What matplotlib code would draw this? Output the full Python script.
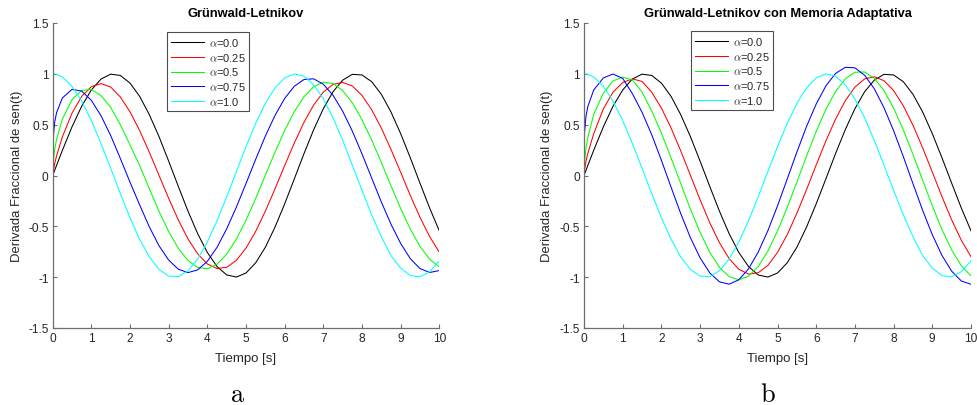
import matplotlib
matplotlib.use('Agg')
import matplotlib.pyplot as plt

plt.rcParams['font.family'] = ['Liberation Sans', 'DejaVu Sans']
plt.rcParams['mathtext.fontset'] = 'cm'

# ---------------- data ----------------
t = [0, 0.01, 0.05, 0.1, 0.25, 0.5, 0.75, 1.0, 1.25, 1.5, 1.75, 2.0, 2.25, 2.5,
     2.75, 3.0, 3.25, 3.5, 3.75, 4.0, 4.25, 4.5, 4.75, 5.0, 5.25, 5.5, 5.75, 6.0,
     6.25, 6.5, 6.75, 7.0, 7.25, 7.5, 7.75, 8.0, 8.25, 8.5, 8.75, 9.0, 9.25, 9.5,
     9.75, 10.0]

alpha_labels = [r'$\alpha$=0.0', r'$\alpha$=0.25', r'$\alpha$=0.5',
                r'$\alpha$=0.75', r'$\alpha$=1.0']
colors = ['#000000', '#ff0000', '#00ff00', '#0000ff', '#00ffff']

# alpha = 0.0 and alpha = 1.0 (same in both panels)
d_a00 = [0, 0.010, 0.050, 0.100, 0.247, 0.479, 0.682, 0.841, 0.949, 0.997, 0.984,
         0.909, 0.778, 0.598, 0.382, 0.141, -0.108, -0.351, -0.572, -0.757,
         -0.895, -0.978, -0.999, -0.959, -0.859, -0.706, -0.508, -0.279, -0.033,
         0.215, 0.450, 0.657, 0.823, 0.938, 0.995, 0.989, 0.923, 0.799, 0.625,
         0.412, 0.174, -0.075, -0.320, -0.544]
d_a10 = [0, 1.000, 0.999, 0.995, 0.969, 0.878, 0.732, 0.540, 0.315, 0.071, -0.178,
         -0.416, -0.628, -0.801, -0.924, -0.990, -0.994, -0.937, -0.821, -0.654,
         -0.446, -0.211, 0.038, 0.284, 0.512, 0.709, 0.861, 0.960, 0.999, 0.977,
         0.893, 0.754, 0.568, 0.347, 0.101, -0.146, -0.386, -0.602, -0.788,
         -0.911, -0.985, -0.997, -0.947, -0.839]

# panel a: Grunwald-Letnikov
gl_a025 = [0, 0.034, 0.115, 0.193, 0.380, 0.614, 0.778, 0.874, 0.904, 0.870, 0.772,
           0.626, 0.441, 0.228, 0.001, -0.225, -0.438, -0.624, -0.771, -0.870,
           -0.915, -0.903, -0.835, -0.714, -0.550, -0.351, -0.131, 0.098, 0.320,
           0.523, 0.693, 0.820, 0.896, 0.916, 0.880, 0.788, 0.647, 0.467, 0.257,
           0.032, -0.196, -0.411, -0.601, -0.754]
gl_a050 = [0, 0.113, 0.252, 0.356, 0.555, 0.746, 0.836, 0.846, 0.786, 0.670, 0.500,
           0.300, 0.098, -0.131, -0.353, -0.552, -0.717, -0.837, -0.905, -0.918,
           -0.873, -0.774, -0.626, -0.440, -0.226, 0.002, 0.229, 0.443, 0.628,
           0.775, 0.873, 0.918, 0.905, 0.836, 0.715, 0.549, 0.350, 0.128, -0.101,
           -0.324, -0.527, -0.697, -0.824, -0.899]
gl_a075 = [0, 0.349, 0.522, 0.618, 0.763, 0.847, 0.830, 0.739, 0.588, 0.393, 0.167,
           -0.066, -0.290, -0.506, -0.691, -0.832, -0.922, -0.955, -0.928, -0.844,
           -0.707, -0.525, -0.312, -0.079, 0.159, 0.387, 0.591, 0.758, 0.878,
           0.944, 0.951, 0.898, 0.790, 0.633, 0.437, 0.213, -0.024, -0.260, -0.479,
           -0.668, -0.818, -0.915, -0.954, -0.935]

# panel b: Grunwald-Letnikov con memoria adaptativa
ma_a025 = [0, 0.045, 0.140, 0.220, 0.410, 0.655, 0.820, 0.915, 0.950, 0.925, 0.819,
           0.664, 0.467, 0.242, 0.002, -0.239, -0.465, -0.661, -0.817, -0.922,
           -0.970, -0.957, -0.885, -0.757, -0.583, -0.372, -0.139, 0.104, 0.340,
           0.554, 0.735, 0.869, 0.950, 0.971, 0.933, 0.836, 0.686, 0.495, 0.273,
           0.034, -0.208, -0.436, -0.637, -0.799]
ma_a050 = [0, 0.120, 0.265, 0.375, 0.600, 0.810, 0.930, 0.968, 0.940, 0.820, 0.635,
           0.417, 0.173, -0.080, -0.331, -0.560, -0.755, -0.903, -0.995, -1.025,
           -0.991, -0.896, -0.745, -0.547, -0.315, -0.065, 0.190, 0.434, 0.650,
           0.826, 0.950, 1.016, 1.018, 0.957, 0.836, 0.664, 0.450, 0.208, -0.046,
           -0.298, -0.532, -0.732, -0.888, -0.987]
ma_a075 = [0, 0.400, 0.580, 0.680, 0.840, 0.960, 0.998, 0.955, 0.805, 0.622, 0.401,
           0.150, -0.115, -0.375, -0.612, -0.810, -0.958, -1.046, -1.069, -1.026,
           -0.919, -0.755, -0.544, -0.299, -0.036, 0.230, 0.482, 0.703, 0.881,
           1.004, 1.064, 1.059, 0.987, 0.854, 0.668, 0.441, 0.187, -0.080, -0.342,
           -0.582, -0.786, -0.941, -1.038, -1.070]

panels = [
    ('Grünwald-Letnikov', [d_a00, gl_a025, gl_a050, gl_a075, d_a10], 'a'),
    ('Grünwald-Letnikov con Memoria Adaptativa',
     [d_a00, ma_a025, ma_a050, ma_a075, d_a10], 'b'),
]

xticks = [0, 1, 2, 3, 4, 5, 6, 7, 8, 9, 10]
yticks = [-1.5, -1, -0.5, 0, 0.5, 1, 1.5]
ytick_labels = ['-1.5', '-1', '-0.5', '0', '0.5', '1', '1.5']

# ---------------- figure ----------------
W, H = 977, 406
fig = plt.figure(figsize=(W / 100, H / 100), dpi=100)
fig.patch.set_facecolor('white')

axes_px = [(52.7, 439.3), (584.0, 971.0)]
ytop, ybot = 24.0, 329.0
ylabel_x = [17.0, 546.7]
legend_left_px = [167.0, 691.0]
legend_top_px = [33.0, 32.0]

axis_gray = '#6e6e6e'
text_gray = '#262626'

for i, (title, series, letter) in enumerate(panels):
    x0, x1 = axes_px[i]
    ax = fig.add_axes([x0 / W, (H - ybot) / H, (x1 - x0) / W, (ybot - ytop) / H])
    for y, c, lab in zip(series, colors, alpha_labels):
        ax.plot(t, y, color=c, lw=0.75, label=lab, solid_joinstyle='round')
    ax.set_xlim(0, 10)
    ax.set_ylim(-1.5, 1.5)
    ax.set_xticks(xticks)
    ax.set_xticklabels([str(v) for v in xticks])
    ax.set_yticks(yticks)
    ax.set_yticklabels(ytick_labels)
    for s in ['top', 'right']:
        ax.spines[s].set_visible(False)
    for s in ['left', 'bottom']:
        ax.spines[s].set_color(axis_gray)
        ax.spines[s].set_linewidth(0.9)
    ax.tick_params(direction='in', length=3.0, width=0.8, color=axis_gray,
                   labelsize=8.6, labelcolor=text_gray, pad=3.0)
    ax.set_title(title, fontsize=9.3, fontweight='bold', color='black', pad=5)

    cx = (x0 + x1) / 2
    fig.text(ylabel_x[i] / W, (H - (ytop + ybot) / 2) / H,
             'Derivada Fraccional de sen(t)', rotation=90, ha='center',
             va='center', fontsize=9.4, color=text_gray)
    fig.text(cx / W, (H - 359) / H, 'Tiempo [s]', ha='center', va='center',
             fontsize=9.5, color=text_gray)
    fig.text((238 if i == 0 else 768) / W, (H - 402) / H,
             r'$\mathrm{' + letter + '}$', ha='center', va='baseline',
             fontsize=19, color='black')

    lx = (legend_left_px[i] - x0) / (x1 - x0)
    ly = (ybot - legend_top_px[i]) / (ybot - ytop)
    leg = ax.legend(loc='upper left', bbox_to_anchor=(lx, ly), borderaxespad=0,
                    fontsize=8, handlelength=3.0, handletextpad=0.4,
                    labelspacing=0.25, borderpad=0.35, frameon=True,
                    fancybox=False, edgecolor='#4d4d4d', framealpha=1)
    leg.get_frame().set_linewidth(0.8)
    for txt in leg.get_texts():
        txt.set_color(text_gray)

fig.savefig('out.png', dpi=100, facecolor='white')
